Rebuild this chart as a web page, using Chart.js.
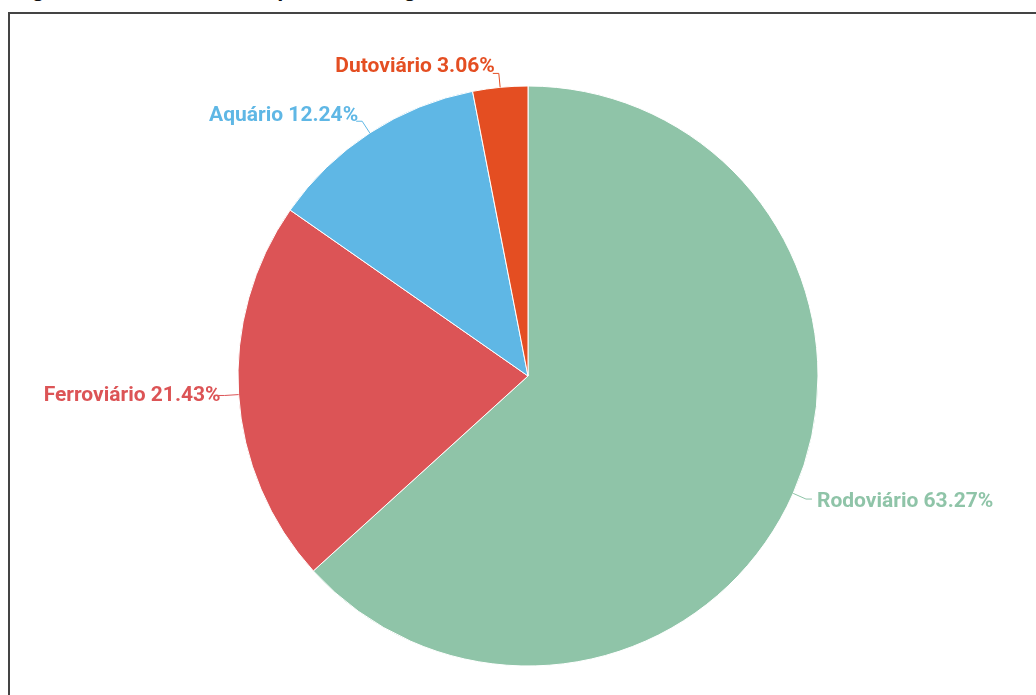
<!DOCTYPE html>
<html>
<head>
<meta charset="utf-8">
<script src="https://cdn.jsdelivr.net/npm/chart.js@4.4.0/dist/chart.umd.min.js"></script>
<style>
    html,body{margin:0;padding:0;background:#fff;width:1036px;height:695px;overflow:hidden;}
    #title{position:absolute;left:12px;top:-24px;font:bold 22px "Liberation Sans",Arial,sans-serif;color:#111;white-space:nowrap;}
    #frame{position:absolute;left:8px;top:12px;width:1100px;height:800px;border-left:2px solid #444;border-top:2px solid #444;}
    #wrap{position:absolute;left:0;top:0;width:1036px;height:695px;}
</style>
</head>
<body>
<div id="title">Figura 1 – Matriz de transporte de cargas do Brasil, em 2019</div>
<div id="frame"></div>
<div id="wrap"><canvas id="canvas"></canvas></div>
<script>
const labels=["Rodoviário","Ferroviário","Aquário","Dutoviário"];
const values=[62,21,12,3];
const percents=["63.27%","21.43%","12.24%","3.06%"];
const colors=["#8fc4a8","#dc5456","#5fb7e5","#e44e22"];

// labels outside the slices with a small leader line
const outsideLabels={
    id:"outsideLabels",
    afterDatasetsDraw(chart){
        const ctx=chart.ctx;
        const meta=chart.getDatasetMeta(0);
        ctx.save();
        ctx.font="bold 21px Roboto";
        ctx.textBaseline="middle";
        meta.data.forEach((arc,i)=>{
            const mid=(arc.startAngle+arc.endAngle)/2;
            const dx=Math.cos(mid);
            const dy=Math.sin(mid);
            const r=arc.outerRadius;
            const x0=arc.x+dx*r, y0=arc.y+dy*r;
            const x1=arc.x+dx*(r+14), y1=arc.y+dy*(r+14);
            const right=dx>=0;
            const x2=x1+(right?6:-6);
            ctx.strokeStyle=colors[i];
            ctx.lineWidth=1;
            ctx.beginPath();
            ctx.moveTo(x0,y0);
            ctx.lineTo(x1,y1);
            ctx.lineTo(x2,y1);
            ctx.stroke();
            ctx.fillStyle=colors[i];
            ctx.textAlign=right?"left":"right";
            ctx.fillText(labels[i]+" "+percents[i],x2+(right?5:2),y1+dy*7);
        });
        ctx.restore();
    }
};

new Chart(document.getElementById("canvas"),{
    type:"pie",
    data:{
        labels:labels,
        datasets:[{
            data:values,
            backgroundColor:colors,
            borderColor:"#ffffff",
            borderWidth:1
        }]
    },
    options:{
        responsive:true,
        maintainAspectRatio:false,
        animation:false,
        radius:290,
        layout:{padding:{left:20,top:57,right:0,bottom:0}},
        plugins:{
            legend:{display:false},
            tooltip:{enabled:false}
        }
    },
    plugins:[outsideLabels]
});
</script>
</body>
</html>
